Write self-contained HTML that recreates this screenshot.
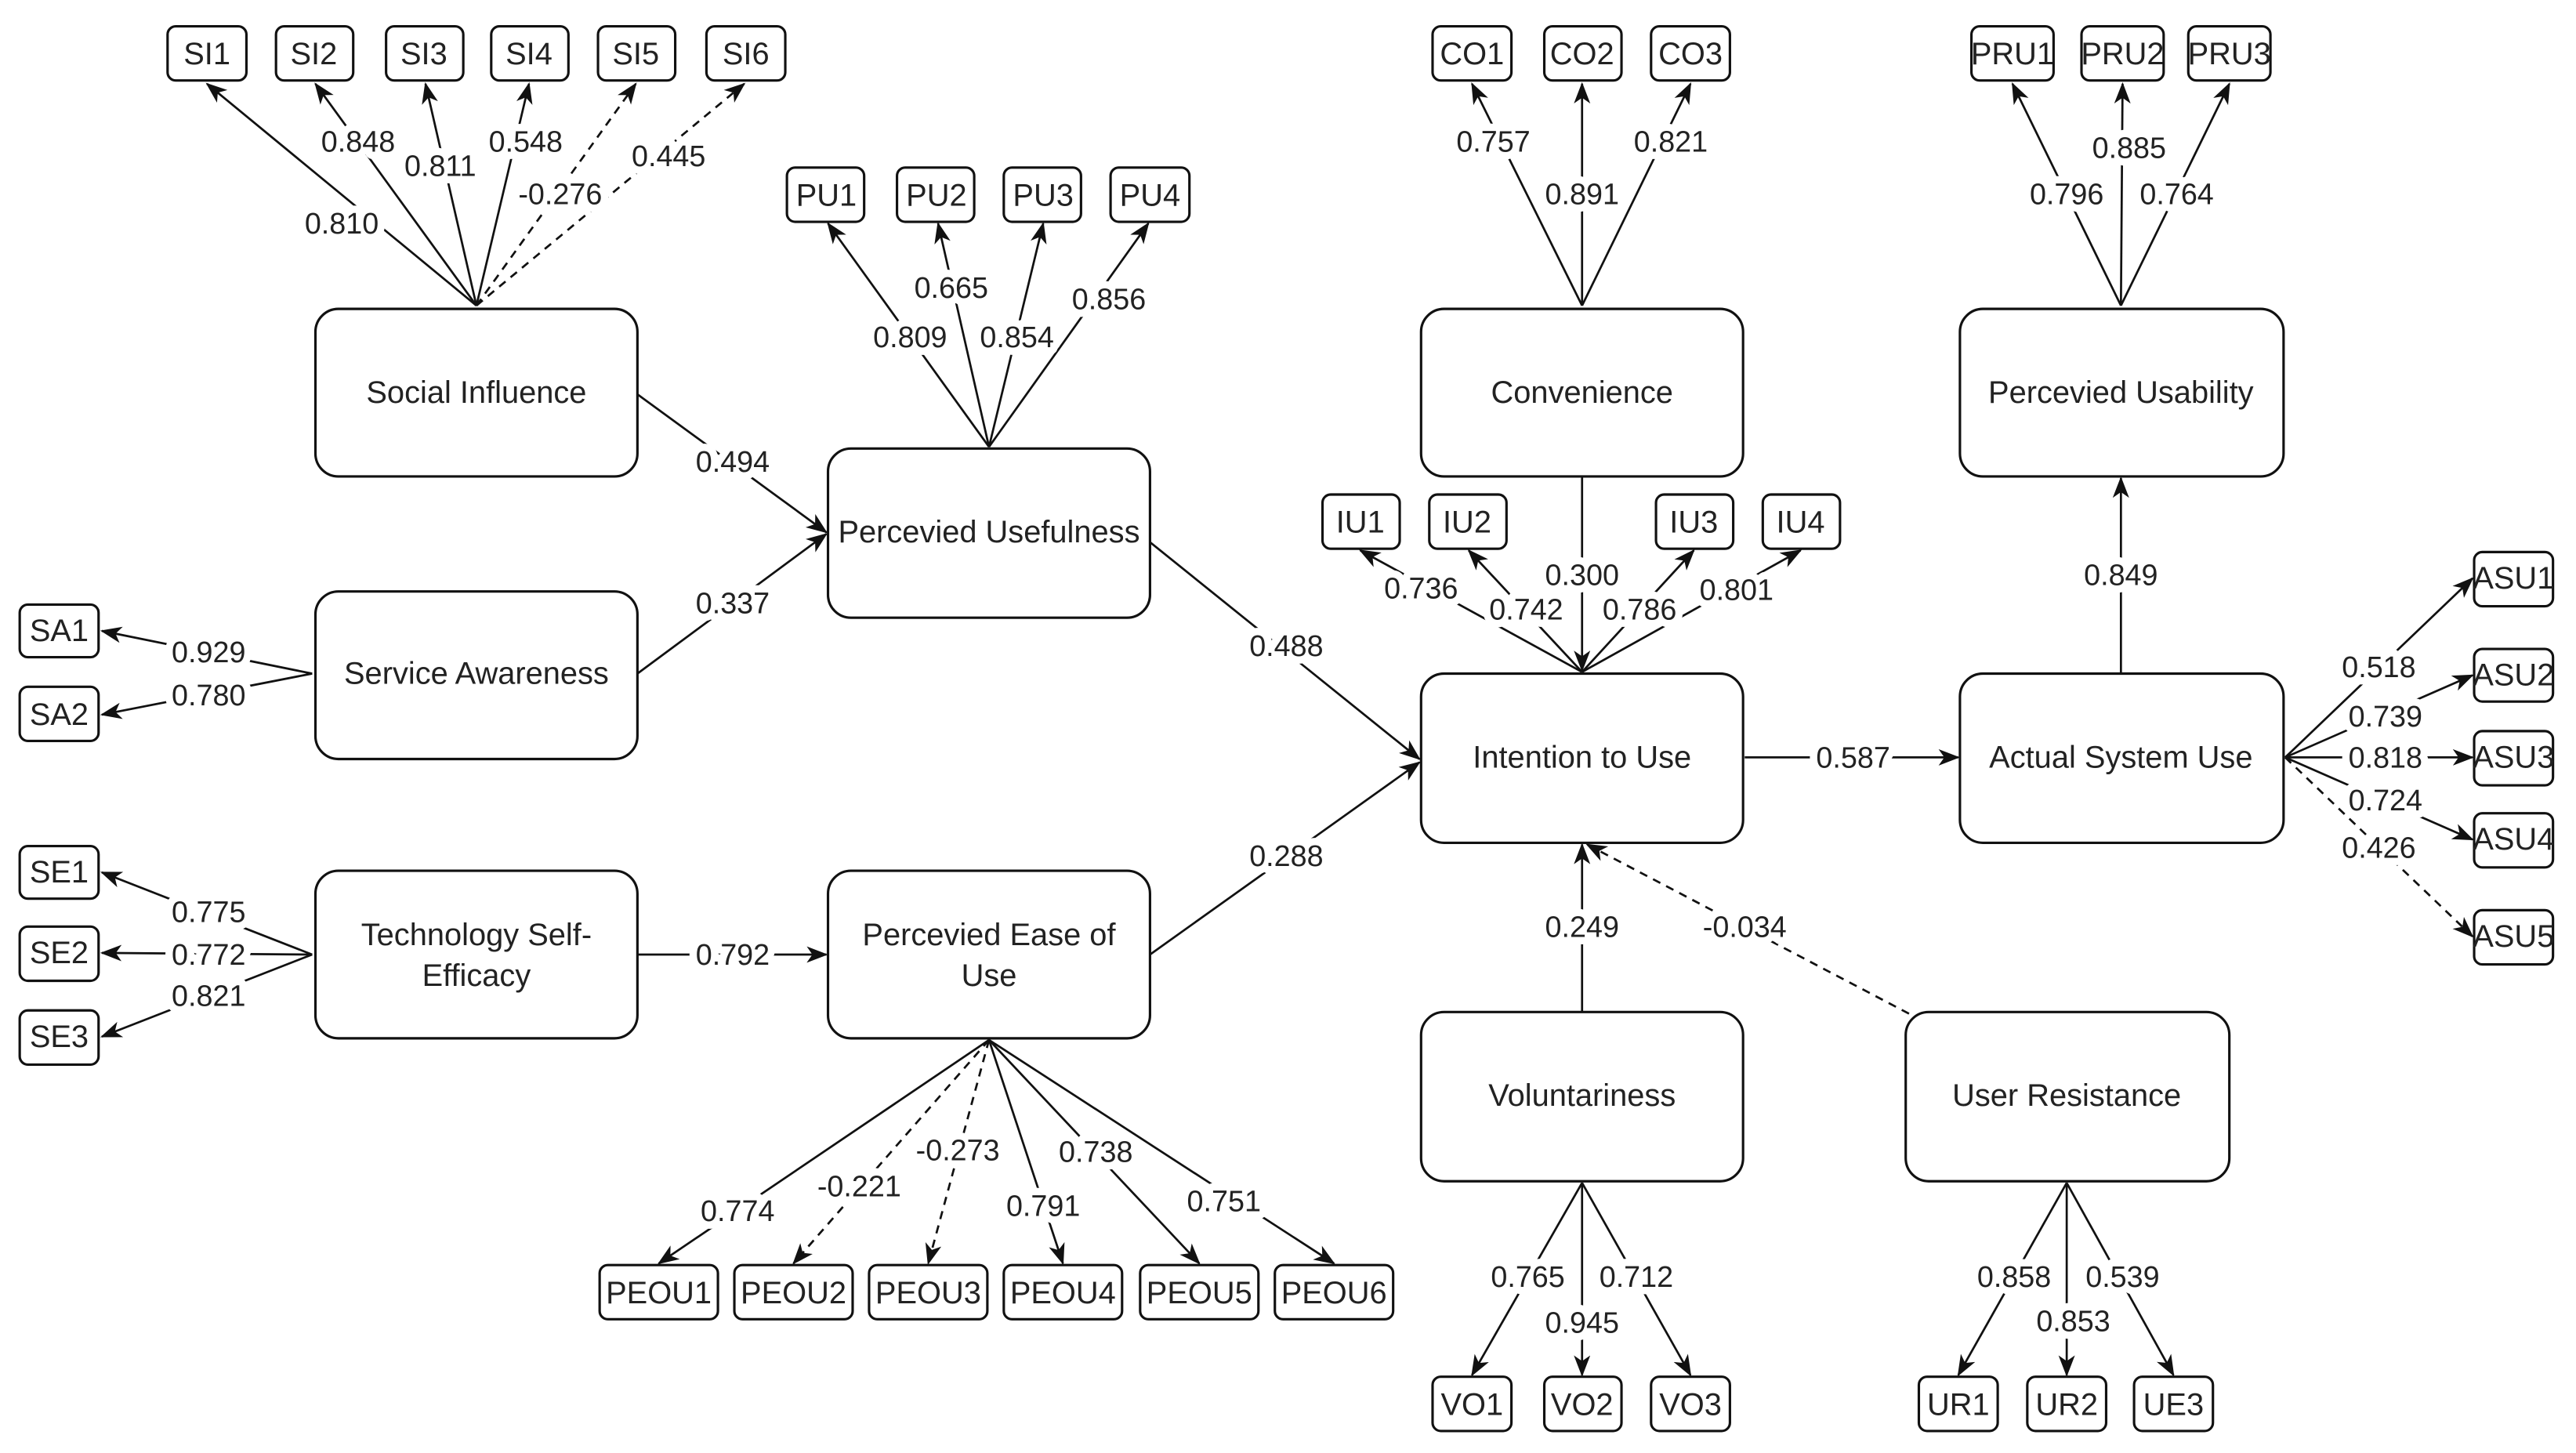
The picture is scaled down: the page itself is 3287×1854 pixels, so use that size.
<!DOCTYPE html>
<html><head><meta charset="utf-8"><style>
html,body{margin:0;padding:0;background:#fff;}
svg{display:block;}
text{font-family:"Liberation Sans",Arial,sans-serif;fill:#222;}
.n{font-size:18px;text-anchor:middle;dominant-baseline:central;stroke:#fff;stroke-width:9px;paint-order:stroke fill;stroke-linejoin:round;}
.b{font-size:19px;text-anchor:middle;dominant-baseline:central;}
.i{font-size:19px;text-anchor:middle;dominant-baseline:central;}
.box{fill:#fff;stroke:#111;stroke-width:1.5;}
.l{stroke:#111;stroke-width:1.3;fill:none;marker-end:url(#a);}
.d{stroke:#111;stroke-width:1.3;fill:none;stroke-dasharray:5 4;marker-end:url(#a);}
</style></head><body>
<svg width="3287" height="1854" viewBox="0 0 1568 884.4" xmlns="http://www.w3.org/2000/svg">
<defs><marker id="a" markerWidth="14" markerHeight="12" refX="12" refY="5" orient="auto" markerUnits="userSpaceOnUse"><path d="M0,0 L13,5 L0,10 L3.5,5 z" fill="#111"/></marker></defs>
<rect width="1568" height="885" fill="#fff"/>

<g>
<line class="l" x1="290" y1="186" x2="126" y2="51"/>
<line class="l" x1="290" y1="186" x2="192" y2="51"/>
<line class="l" x1="290" y1="186" x2="259" y2="51"/>
<line class="l" x1="290" y1="186" x2="322" y2="51"/>
<line class="d" x1="290" y1="186" x2="387" y2="51"/>
<line class="d" x1="290" y1="186" x2="453" y2="51"/>
<line class="l" x1="602" y1="272" x2="504" y2="136"/>
<line class="l" x1="602" y1="272" x2="571" y2="136"/>
<line class="l" x1="602" y1="272" x2="635" y2="136"/>
<line class="l" x1="602" y1="272" x2="699" y2="136"/>
<line class="l" x1="190" y1="410" x2="62" y2="384"/>
<line class="l" x1="190" y1="410" x2="62" y2="435"/>
<line class="l" x1="190" y1="581" x2="62" y2="531"/>
<line class="l" x1="190" y1="581" x2="62" y2="580"/>
<line class="l" x1="190" y1="581" x2="62" y2="631"/>
<line class="l" x1="388" y1="240" x2="503" y2="324"/>
<line class="l" x1="388" y1="410" x2="503" y2="325"/>
<line class="l" x1="388" y1="581" x2="503" y2="581"/>
<line class="l" x1="700" y1="330" x2="864" y2="462"/>
<line class="l" x1="700" y1="581" x2="864" y2="464"/>
<line class="l" x1="602" y1="633" x2="401" y2="769"/>
<line class="d" x1="602" y1="633" x2="483" y2="769"/>
<line class="d" x1="602" y1="633" x2="565" y2="769"/>
<line class="l" x1="602" y1="633" x2="647" y2="769"/>
<line class="l" x1="602" y1="633" x2="730" y2="769"/>
<line class="l" x1="602" y1="633" x2="812" y2="769"/>
<line class="l" x1="963" y1="409" x2="828" y2="335"/>
<line class="l" x1="963" y1="409" x2="894" y2="335"/>
<line class="l" x1="963" y1="409" x2="1031" y2="335"/>
<line class="l" x1="963" y1="409" x2="1096" y2="335"/>
<line class="l" x1="963" y1="290" x2="963" y2="408"/>
<line class="l" x1="963" y1="186" x2="896" y2="51"/>
<line class="l" x1="963" y1="186" x2="963" y2="51"/>
<line class="l" x1="963" y1="186" x2="1029" y2="51"/>
<line class="l" x1="963" y1="616" x2="963" y2="514"/>
<line class="l" x1="963" y1="720" x2="896" y2="837"/>
<line class="l" x1="963" y1="720" x2="963" y2="837"/>
<line class="l" x1="963" y1="720" x2="1029" y2="837"/>
<line class="d" x1="1162" y1="617" x2="966" y2="514"/>
<line class="l" x1="1258" y1="720" x2="1192" y2="837"/>
<line class="l" x1="1258" y1="720" x2="1258" y2="837"/>
<line class="l" x1="1258" y1="720" x2="1323" y2="837"/>
<line class="l" x1="1062" y1="461" x2="1192" y2="461"/>
<line class="l" x1="1291" y1="410" x2="1291" y2="291"/>
<line class="l" x1="1291" y1="186" x2="1225" y2="51"/>
<line class="l" x1="1291" y1="186" x2="1292" y2="51"/>
<line class="l" x1="1291" y1="186" x2="1357" y2="51"/>
<line class="l" x1="1391" y1="461" x2="1505" y2="352"/>
<line class="l" x1="1391" y1="461" x2="1505" y2="411"/>
<line class="l" x1="1391" y1="461" x2="1505" y2="461"/>
<line class="l" x1="1391" y1="461" x2="1505" y2="511"/>
<line class="d" x1="1391" y1="461" x2="1505" y2="570"/>
</g>

<g>
<rect class="box" x="192" y="188" width="196" height="102" rx="14"/><text class="b" x="290" y="239">Social Influence</text>
<rect class="box" x="192" y="360" width="196" height="102" rx="14"/><text class="b" x="290" y="410">Service Awareness</text>
<rect class="box" x="192" y="530" width="196" height="102" rx="14"/><text class="b" x="290" y="569">Technology Self-</text><text class="b" x="290" y="594">Efficacy</text>
<rect class="box" x="504" y="273" width="196" height="103" rx="14"/><text class="b" x="602" y="324">Percevied Usefulness</text>
<rect class="box" x="504" y="530" width="196" height="102" rx="14"/><text class="b" x="602" y="569">Percevied Ease of</text><text class="b" x="602" y="594">Use</text>
<rect class="box" x="865" y="188" width="196" height="102" rx="14"/><text class="b" x="963" y="239">Convenience</text>
<rect class="box" x="865" y="410" width="196" height="103" rx="14"/><text class="b" x="963" y="461">Intention to Use</text>
<rect class="box" x="865" y="616" width="196" height="103" rx="14"/><text class="b" x="963" y="667">Voluntariness</text>
<rect class="box" x="1160" y="616" width="197" height="103" rx="14"/><text class="b" x="1258" y="667">User Resistance</text>
<rect class="box" x="1193" y="410" width="197" height="103" rx="14"/><text class="b" x="1291" y="461">Actual System Use</text>
<rect class="box" x="1193" y="188" width="197" height="102" rx="14"/><text class="b" x="1291" y="239">Percevied Usability</text>
</g>

<g>
<rect class="box" x="102" y="16" width="48" height="33" rx="5"/><text class="i" x="126" y="33">SI1</text>
<rect class="box" x="168" y="16" width="47" height="33" rx="5"/><text class="i" x="191" y="33">SI2</text>
<rect class="box" x="235" y="16" width="47" height="33" rx="5"/><text class="i" x="258" y="33">SI3</text>
<rect class="box" x="299" y="16" width="47" height="33" rx="5"/><text class="i" x="322" y="33">SI4</text>
<rect class="box" x="364" y="16" width="47" height="33" rx="5"/><text class="i" x="387" y="33">SI5</text>
<rect class="box" x="430" y="16" width="48" height="33" rx="5"/><text class="i" x="454" y="33">SI6</text>

<rect class="box" x="479" y="102" width="47" height="33" rx="5"/><text class="i" x="503" y="119">PU1</text>
<rect class="box" x="546" y="102" width="47" height="33" rx="5"/><text class="i" x="570" y="119">PU2</text>
<rect class="box" x="611" y="102" width="47" height="33" rx="5"/><text class="i" x="635" y="119">PU3</text>
<rect class="box" x="676" y="102" width="48" height="33" rx="5"/><text class="i" x="700" y="119">PU4</text>

<rect class="box" x="12" y="368" width="48" height="32" rx="5"/><text class="i" x="36" y="384">SA1</text>
<rect class="box" x="12" y="418" width="48" height="33" rx="5"/><text class="i" x="36" y="435">SA2</text>

<rect class="box" x="12" y="515" width="48" height="32" rx="5"/><text class="i" x="36" y="531">SE1</text>
<rect class="box" x="12" y="564" width="48" height="33" rx="5"/><text class="i" x="36" y="580">SE2</text>
<rect class="box" x="12" y="615" width="48" height="33" rx="5"/><text class="i" x="36" y="631">SE3</text>

<rect class="box" x="365" y="770" width="72" height="33" rx="5"/><text class="i" x="401" y="787">PEOU1</text>
<rect class="box" x="447" y="770" width="72" height="33" rx="5"/><text class="i" x="483" y="787">PEOU2</text>
<rect class="box" x="529" y="770" width="72" height="33" rx="5"/><text class="i" x="565" y="787">PEOU3</text>
<rect class="box" x="611" y="770" width="72" height="33" rx="5"/><text class="i" x="647" y="787">PEOU4</text>
<rect class="box" x="694" y="770" width="72" height="33" rx="5"/><text class="i" x="730" y="787">PEOU5</text>
<rect class="box" x="776" y="770" width="72" height="33" rx="5"/><text class="i" x="812" y="787">PEOU6</text>

<rect class="box" x="805" y="301" width="47" height="33" rx="5"/><text class="i" x="828" y="318">IU1</text>
<rect class="box" x="870" y="301" width="47" height="33" rx="5"/><text class="i" x="893" y="318">IU2</text>
<rect class="box" x="1008" y="301" width="47" height="33" rx="5"/><text class="i" x="1031" y="318">IU3</text>
<rect class="box" x="1073" y="301" width="47" height="33" rx="5"/><text class="i" x="1096" y="318">IU4</text>

<rect class="box" x="872" y="16" width="48" height="33" rx="5"/><text class="i" x="896" y="33">CO1</text>
<rect class="box" x="940" y="16" width="47" height="33" rx="5"/><text class="i" x="963" y="33">CO2</text>
<rect class="box" x="1005" y="16" width="48" height="33" rx="5"/><text class="i" x="1029" y="33">CO3</text>

<rect class="box" x="872" y="838" width="48" height="33" rx="5"/><text class="i" x="896" y="855">VO1</text>
<rect class="box" x="940" y="838" width="47" height="33" rx="5"/><text class="i" x="963" y="855">VO2</text>
<rect class="box" x="1005" y="838" width="48" height="33" rx="5"/><text class="i" x="1029" y="855">VO3</text>

<rect class="box" x="1168" y="838" width="48" height="33" rx="5"/><text class="i" x="1192" y="855">UR1</text>
<rect class="box" x="1234" y="838" width="48" height="33" rx="5"/><text class="i" x="1258" y="855">UR2</text>
<rect class="box" x="1299" y="838" width="48" height="33" rx="5"/><text class="i" x="1323" y="855">UE3</text>

<rect class="box" x="1200" y="16" width="50" height="33" rx="5"/><text class="i" x="1225" y="33">PRU1</text>
<rect class="box" x="1267" y="16" width="50" height="33" rx="5"/><text class="i" x="1292" y="33">PRU2</text>
<rect class="box" x="1332" y="16" width="50" height="33" rx="5"/><text class="i" x="1357" y="33">PRU3</text>

<rect class="box" x="1506" y="336" width="48" height="33" rx="5"/><text class="i" x="1530" y="352">ASU1</text>
<rect class="box" x="1506" y="395" width="48" height="32" rx="5"/><text class="i" x="1530" y="411">ASU2</text>
<rect class="box" x="1506" y="445" width="48" height="33" rx="5"/><text class="i" x="1530" y="461">ASU3</text>
<rect class="box" x="1506" y="495" width="48" height="33" rx="5"/><text class="i" x="1530" y="511">ASU4</text>
<rect class="box" x="1506" y="554" width="48" height="33" rx="5"/><text class="i" x="1530" y="570">ASU5</text>
</g>

<g>
<text class="n" x="208" y="136">0.810</text>
<text class="n" x="218" y="86">0.848</text>
<text class="n" x="268" y="101">0.811</text>
<text class="n" x="320" y="86">0.548</text>
<text class="n" x="341" y="118">-0.276</text>
<text class="n" x="407" y="95">0.445</text>

<text class="n" x="554" y="205">0.809</text>
<text class="n" x="579" y="175">0.665</text>
<text class="n" x="619" y="205">0.854</text>
<text class="n" x="675" y="182">0.856</text>

<text class="n" x="127" y="397">0.929</text>
<text class="n" x="127" y="423">0.780</text>
<text class="n" x="127" y="555">0.775</text>
<text class="n" x="127" y="581">0.772</text>
<text class="n" x="127" y="606">0.821</text>

<text class="n" x="446" y="281">0.494</text>
<text class="n" x="446" y="367">0.337</text>
<text class="n" x="446" y="581">0.792</text>
<text class="n" x="783" y="393">0.488</text>
<text class="n" x="783" y="521">0.288</text>

<text class="n" x="449" y="737">0.774</text>
<text class="n" x="523" y="722">-0.221</text>
<text class="n" x="583" y="700">-0.273</text>
<text class="n" x="635" y="734">0.791</text>
<text class="n" x="667" y="701">0.738</text>
<text class="n" x="745" y="731">0.751</text>

<text class="n" x="865" y="358">0.736</text>
<text class="n" x="929" y="371">0.742</text>
<text class="n" x="963" y="350">0.300</text>
<text class="n" x="998" y="371">0.786</text>
<text class="n" x="1057" y="359">0.801</text>

<text class="n" x="909" y="86">0.757</text>
<text class="n" x="963" y="118">0.891</text>
<text class="n" x="1017" y="86">0.821</text>

<text class="n" x="963" y="564">0.249</text>
<text class="n" x="1062" y="564">-0.034</text>
<text class="n" x="930" y="777">0.765</text>
<text class="n" x="963" y="805">0.945</text>
<text class="n" x="996" y="777">0.712</text>

<text class="n" x="1226" y="777">0.858</text>
<text class="n" x="1262" y="804">0.853</text>
<text class="n" x="1292" y="777">0.539</text>

<text class="n" x="1128" y="461">0.587</text>
<text class="n" x="1291" y="350">0.849</text>
<text class="n" x="1258" y="118">0.796</text>
<text class="n" x="1296" y="90">0.885</text>
<text class="n" x="1325" y="118">0.764</text>

<text class="n" x="1448" y="406">0.518</text>
<text class="n" x="1452" y="436">0.739</text>
<text class="n" x="1452" y="461">0.818</text>
<text class="n" x="1452" y="487">0.724</text>
<text class="n" x="1448" y="516">0.426</text>
</g>
</svg>
</body></html>
